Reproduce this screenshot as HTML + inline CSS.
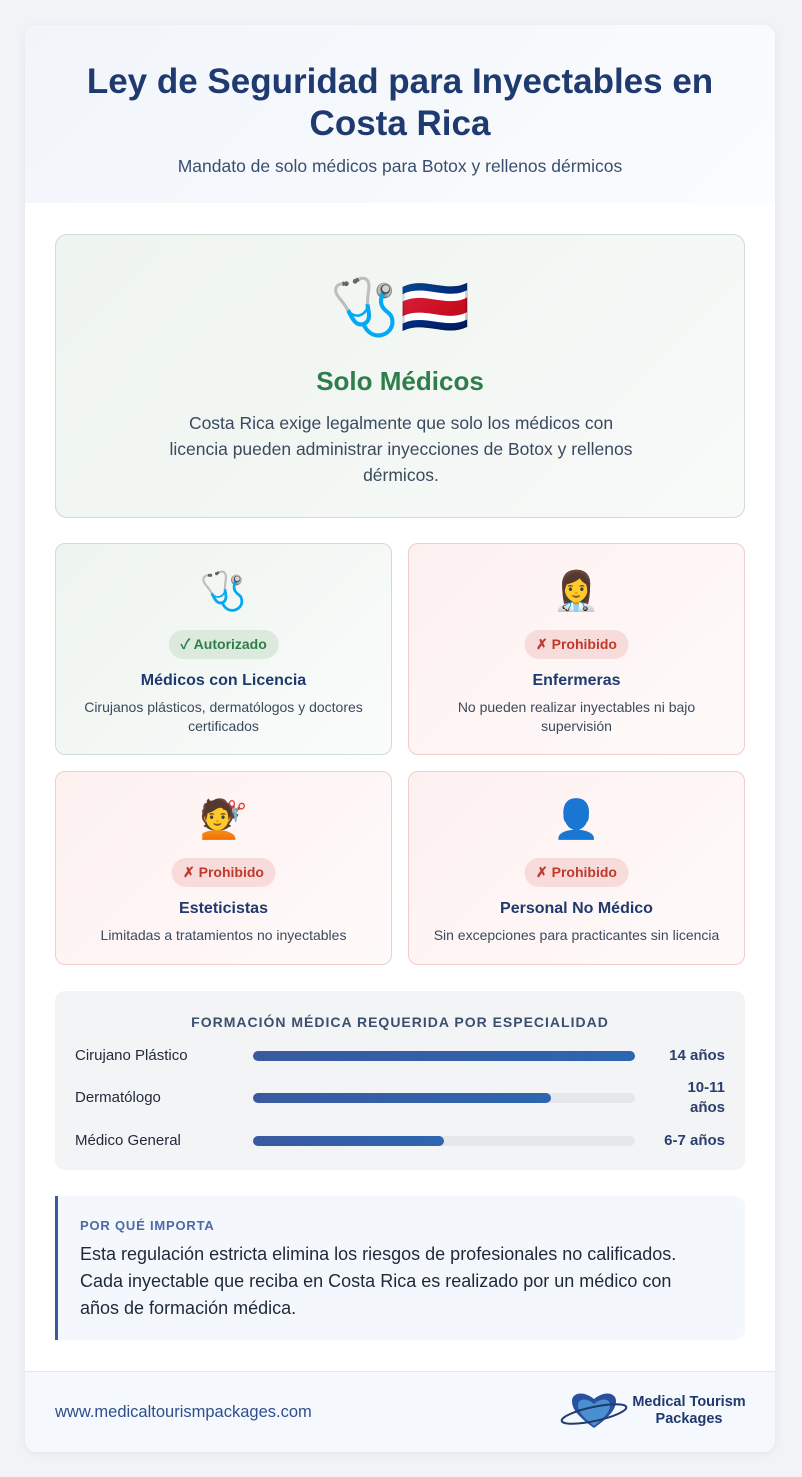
<!DOCTYPE html>
<html><head><meta charset="utf-8">
<style>
*{box-sizing:border-box;margin:0;padding:0}
body{width:802px;height:1477px;background:#f1f3f6;font-family:"Liberation Sans","Noto Sans CJK JP",sans-serif;position:relative;overflow:hidden}
.card{position:absolute;left:25px;top:25px;width:750px;height:1427px;background:#fff;border-radius:12px;overflow:hidden;box-shadow:0 2px 10px rgba(0,0,0,.06)}
.hdr{position:absolute;left:0;top:0;width:750px;height:178px;background:linear-gradient(135deg,#f1f5fa,#fbfcfe)}
.abs{position:absolute}
.c{text-align:center}
.hero{left:30px;top:209px;width:690px;height:284px;border:1px solid #cfdcd3;border-radius:12px;background:linear-gradient(135deg,#eef4ef,#f8faf9)}
.tile{width:337px;border-radius:10px;border:1px solid #f0cccc;background:linear-gradient(135deg,#fdf1f0,#fffafa)}
.tile.ok{border-color:#cfdcd3;background:linear-gradient(135deg,#eef4ef,#fafcfb)}
.emo{position:absolute;left:0;width:100%;text-align:center;font-size:38px;line-height:44px}
.badge{position:absolute;left:50%;transform:translateX(-50%);height:29px;line-height:29px;padding:0 12px;border-radius:15px;font-size:14px;font-weight:bold;white-space:nowrap}
.bad{background:#f8dcdc;color:#c0392b}
.good{background:#dbeadd;color:#2e7d4a}
.tt{position:absolute;left:0;width:100%;text-align:center;font-size:16px;font-weight:bold;color:#1e3a6e}
.td{position:absolute;left:15px;right:15px;text-align:center;font-size:14px;line-height:19px;color:#3a4a5e}
</style></head><body>
<div class="card">
 <div class="hdr"></div>
 <div class="abs c" style="left:0;top:36px;width:750px;font-size:35px;line-height:42px;font-weight:bold;color:#1e3a6e">Ley de Seguridad para Inyectables en<br>Costa Rica</div>
 <div class="abs c" style="left:0;top:131px;width:750px;font-size:17.5px;color:#3a4f6e">Mandato de solo médicos para Botox y rellenos dérmicos</div>

 <div class="abs hero">
  <div class="emo" style="top:40px;font-size:56px;line-height:64px">🩺🇨🇷</div>
  <div class="abs c" style="left:0;width:100%;top:131px;font-size:26px;font-weight:bold;color:#2e7d4a">Solo Médicos</div>
  <div class="abs c" style="left:112px;width:466px;top:175px;font-size:17.5px;line-height:26px;color:#3a4a5e">Costa Rica exige legalmente que solo los médicos con licencia pueden administrar inyecciones de Botox y rellenos dérmicos.</div>
 </div>

 <div class="abs tile ok" style="left:30px;top:518px;height:212px">
  <div class="emo" style="top:26px">🩺</div>
  <div class="badge good" style="top:86px">✓ Autorizado</div>
  <div class="tt" style="top:128px">Médicos con Licencia</div>
  <div class="td" style="top:154px">Cirujanos plásticos, dermatólogos y doctores certificados</div>
 </div>
 <div class="abs tile" style="left:383px;top:518px;height:212px">
  <div class="emo" style="top:26px">👩‍⚕️</div>
  <div class="badge bad" style="top:86px">✗ Prohibido</div>
  <div class="tt" style="top:128px">Enfermeras</div>
  <div class="td" style="top:154px">No pueden realizar inyectables ni bajo supervisión</div>
 </div>
 <div class="abs tile" style="left:30px;top:746px;height:194px">
  <div class="emo" style="top:26px">💇</div>
  <div class="badge bad" style="top:86px">✗ Prohibido</div>
  <div class="tt" style="top:128px">Esteticistas</div>
  <div class="td" style="top:154px">Limitadas a tratamientos no inyectables</div>
 </div>
 <div class="abs tile" style="left:383px;top:746px;height:194px">
  <div class="emo" style="top:26px">👤</div>
  <div class="badge bad" style="top:86px">✗ Prohibido</div>
  <div class="tt" style="top:128px">Personal No Médico</div>
  <div class="td" style="top:154px">Sin excepciones para practicantes sin licencia</div>
 </div>

 <div class="abs" style="left:30px;top:966px;width:690px;height:179px;background:#f3f4f6;border-radius:10px">
  <div class="abs c" style="left:0;width:100%;top:23px;font-size:14px;font-weight:bold;letter-spacing:1px;color:#3a4f6e">FORMACIÓN MÉDICA REQUERIDA POR ESPECIALIDAD</div>
  <div id="rows"></div>
 </div>

 <div class="abs" style="left:30px;top:1171px;width:690px;height:144px;background:#f4f7fb;border-left:3px solid #3a5aa0;border-radius:0 10px 10px 0">
  <div class="abs" style="left:22px;top:22px;font-size:13px;font-weight:bold;letter-spacing:.8px;color:#4a6aa8">POR QUÉ IMPORTA</div>
  <div class="abs" style="left:22px;top:45px;width:625px;font-size:18px;line-height:27px;color:#1e2a3a">Esta regulación estricta elimina los riesgos de profesionales no calificados. Cada inyectable que reciba en Costa Rica es realizado por un médico con años de formación médica.</div>
 </div>

 <div class="abs" style="left:0;top:1346px;width:750px;height:81px;background:#f5f8fc;border-top:1px solid #e3e8ef">
  <div class="abs" style="left:30px;top:31px;font-size:16.5px;color:#2e4f8f">www.medicaltourismpackages.com</div>
  <svg class="abs" style="left:533px;top:18px" width="76" height="40" viewBox="0 0 76 40">
   <path d="M36 38 C22 28 14 20 14 11 C14 3 25 0 36 9 C47 0 58 3 58 11 C58 20 50 28 36 38Z" fill="#2b4f9f"/>
   <path d="M36 36 C26 28 20 22 20 15 C20 9 28 7 36 14 C44 7 52 9 52 15 C52 22 46 28 36 36Z" fill="#4a90d0"/>
   <ellipse cx="36" cy="24" rx="33" ry="7" fill="none" stroke="#1e3a6e" stroke-width="2" transform="rotate(-12 36 24)"/>
  </svg>
  <div class="abs c" style="left:606px;top:22px;width:116px;font-size:14.5px;line-height:17px;font-weight:bold;color:#1e3a6e">Medical Tourism<br>Packages</div>
 </div>
</div>
<script>
const categories=["Cirujano Plástico","Dermatólogo","Médico General"];
const percentValues=[100,78,50];
const valueLabels=["14 años","10-11<br>años","6-7 años"];
const rows=document.getElementById('rows');
const rowTops=[0,42,85];
const trackW=382;
function xScale(v){return v/100*trackW;}
categories.forEach((c,i)=>{
 const y=65+rowTops[i];
 const lab=document.createElement('div');
 
 
 lab.style.cssText='position:absolute;left:20px;top:'+(y-10)+'px;font-size:15px;line-height:20px;color:#1e2a3a';
 lab.textContent=c;rows.appendChild(lab);
 const tr=document.createElement('div');
 
 
 tr.style.cssText='position:absolute;left:198px;top:'+(y-5)+'px;width:'+trackW+'px;height:10px;border-radius:5px;background:#e5e7eb';
 const b=document.createElement('div');
 
 
 b.style.cssText='height:10px;border-radius:5px;background:linear-gradient(90deg,#3a5aa0,#2d66b0);width:'+xScale(percentValues[i])+'px';
 tr.appendChild(b);rows.appendChild(tr);
 const v=document.createElement('div');
 
 
 const two=valueLabels[i].indexOf('<br>')>=0;
 v.style.cssText='position:absolute;right:20px;text-align:right;font-size:15px;line-height:20px;font-weight:bold;color:#2b3f6e;top:'+(y-(two?20:10))+'px';
 v.innerHTML=valueLabels[i];rows.appendChild(v);
});
</script>
</body></html>
